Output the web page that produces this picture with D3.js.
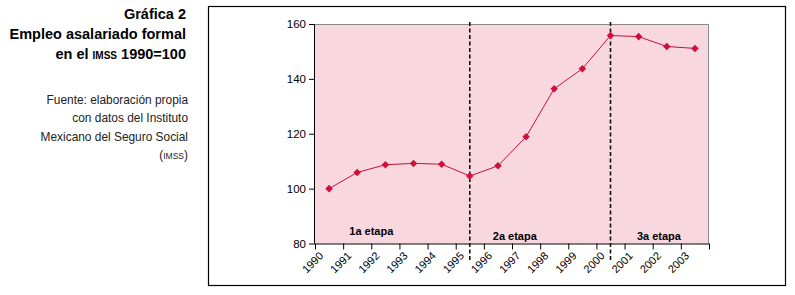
<!DOCTYPE html>
<html>
<head>
<meta charset="utf-8">
<script src="https://cdn.jsdelivr.net/npm/d3@7"></script>
<style>
  body { margin: 0; background: #fff; }
  svg text { font-family: "Liberation Sans", Arial, sans-serif; }
</style>
</head>
<body>
<div id="chart"></div>
<script>
// data
var years = ["1990","1991","1992","1993","1994","1995","1996","1997","1998","1999","2000","2001","2002","2003"];
var empleo = [100, 105.9, 108.7, 109.2, 108.9, 104.6, 108.3, 118.9, 136.4, 143.7, 155.8, 155.4, 151.8, 151.1];
var yTicks = [80, 100, 120, 140, 160];
var cortes = ["1995", "2000"];
var etapas = ["1a etapa", "2a etapa", "3a etapa"];
var etapaYears = ["1992", "1997", "2002"];

var width = 795, height = 295;
var svg = d3.select("#chart").append("svg")
    .attr("width", width)
    .attr("height", height);

// title block on the left
var titulo = svg.append("g").attr("text-anchor", "end");
titulo.append("text").attr("x", 186).attr("y", 19)
  .style("font-weight", "bold").style("font-size", "14.5px").text("Gráfica 2");
titulo.append("text").attr("x", 186).attr("y", 39)
  .style("font-weight", "bold").style("font-size", "14.5px").text("Empleo asalariado formal");
var t3 = titulo.append("text").attr("x", 186).attr("y", 59)
  .style("font-weight", "bold").style("font-size", "14.5px");
t3.append("tspan").text("en el ");
t3.append("tspan").style("font-size", "10px").text("IMSS");
t3.append("tspan").text(" 1990=100");

var fuente = ["Fuente: elaboración propia", "con datos del Instituto", "Mexicano del Seguro Social"];
titulo.selectAll(".fuente")
  .data(fuente)
 .enter()
  .append("text")
  .attr("class", "fuente")
  .attr("x", 188)
  .attr("y", function(d, i) { return 104 + i * 18.3; })
  .style("font-size", "11.9px")
  .style("fill", "#222")
  .text(function(d) { return d; });
var t4 = titulo.append("text").attr("x", 188).attr("y", 159)
  .style("font-size", "11.9px").style("fill", "#222");
t4.append("tspan").text("(");
t4.append("tspan").style("font-size", "8.5px").text("IMSS");
t4.append("tspan").text(")");

// outer frame
svg.append("rect")
  .attr("x", 208.5).attr("y", 6.5)
  .attr("width", 577).attr("height", 279)
  .style("fill", "none")
  .style("stroke", "#000")
  .style("stroke-width", 1.2);

var plotLeft = 315, plotRight = 709, plotTop = 24, plotBottom = 243.5;

var xScale = d3.scaleBand().domain(years).range([plotLeft, plotRight]);
var yScale = d3.scaleLinear().domain([80, 160]).range([plotBottom, plotTop]);
function cx(d) { return xScale(d) + xScale.bandwidth() / 2; }

// plot area
svg.append("rect")
  .attr("x", plotLeft).attr("y", plotTop)
  .attr("width", plotRight - plotLeft).attr("height", plotBottom - plotTop)
  .style("fill", "#f8d7df");
svg.append("path")
  .attr("d", "M" + plotLeft + "," + (plotTop + 0.5) + "H" + (plotRight - 0.5) + "V" + plotBottom)
  .style("fill", "none").style("stroke", "#8a8a8a").style("stroke-width", 1);

// axes
var yAxis = d3.axisLeft(yScale).tickValues(yTicks).tickSize(6).tickPadding(3);
var gy = svg.append("g").attr("class", "y axis")
  .attr("transform", "translate(" + plotLeft + ",0)")
  .call(yAxis);
gy.selectAll("text").style("font-size", "11.5px").style("fill", "#000").style("font-family", "Liberation Sans, Arial, sans-serif");
gy.select(".domain").attr("d", "M-0.5," + plotTop + "V" + plotBottom).style("stroke", "#000");

var xAxis = d3.axisBottom(d3.scaleLinear().domain([0, years.length]).range([plotLeft, plotRight]))
  .ticks(years.length).tickSize(6).tickFormat("");
var gx = svg.append("g").attr("class", "x axis")
  .attr("transform", "translate(0," + plotBottom + ")")
  .call(xAxis);
gx.select(".domain").attr("d", "M" + plotLeft + ",0.5H" + plotRight).style("stroke", "#000");

svg.selectAll(".xlabel")
  .data(years)
 .enter()
  .append("text")
  .attr("class", "xlabel")
  .attr("text-anchor", "end")
  .attr("transform", function(d) { return "translate(" + (xScale(d) + 9) + "," + (plotBottom + 13) + ") rotate(-45)"; })
  .style("font-size", "11px")
  .text(function(d) { return d; });

// stage dividers
svg.selectAll(".corte")
  .data(cortes)
 .enter()
  .append("line")
  .attr("class", "corte")
  .attr("x1", function(d) { return cx(d); })
  .attr("x2", function(d) { return cx(d); })
  .attr("y1", plotTop - 2)
  .attr("y2", plotBottom + 19)
  .style("stroke", "#111")
  .style("stroke-width", 1.6)
  .style("stroke-dasharray", "4,2.5");

// stage labels
var etapaShift = [0, 0.1, 0.22];
svg.selectAll(".etapa")
  .data(etapas)
 .enter()
  .append("text")
  .attr("class", "etapa")
  .attr("text-anchor", "middle")
  .attr("x", function(d, i) { return xScale(etapaYears[i]) + etapaShift[i] * xScale.bandwidth(); })
  .attr("y", function(d, i) { return i === 0 ? 235 : 240; })
  .style("font-size", "11px")
  .style("font-weight", "bold")
  .text(function(d) { return d; });

// series
var line = d3.line()
  .x(function(d, i) { return cx(years[i]); })
  .y(function(d) { return yScale(d); });

svg.append("path")
  .datum(empleo)
  .attr("d", line)
  .style("fill", "none")
  .style("stroke", "#c8103a")
  .style("stroke-width", 1);

svg.selectAll(".punto")
  .data(empleo)
 .enter()
  .append("path")
  .attr("class", "punto")
  .attr("d", d3.symbol().type(d3.symbolDiamond2).size(36))
  .attr("transform", function(d, i) { return "translate(" + cx(years[i]) + "," + yScale(d) + ")"; })
  .style("fill", "#d0103a");
</script>
</body>
</html>
